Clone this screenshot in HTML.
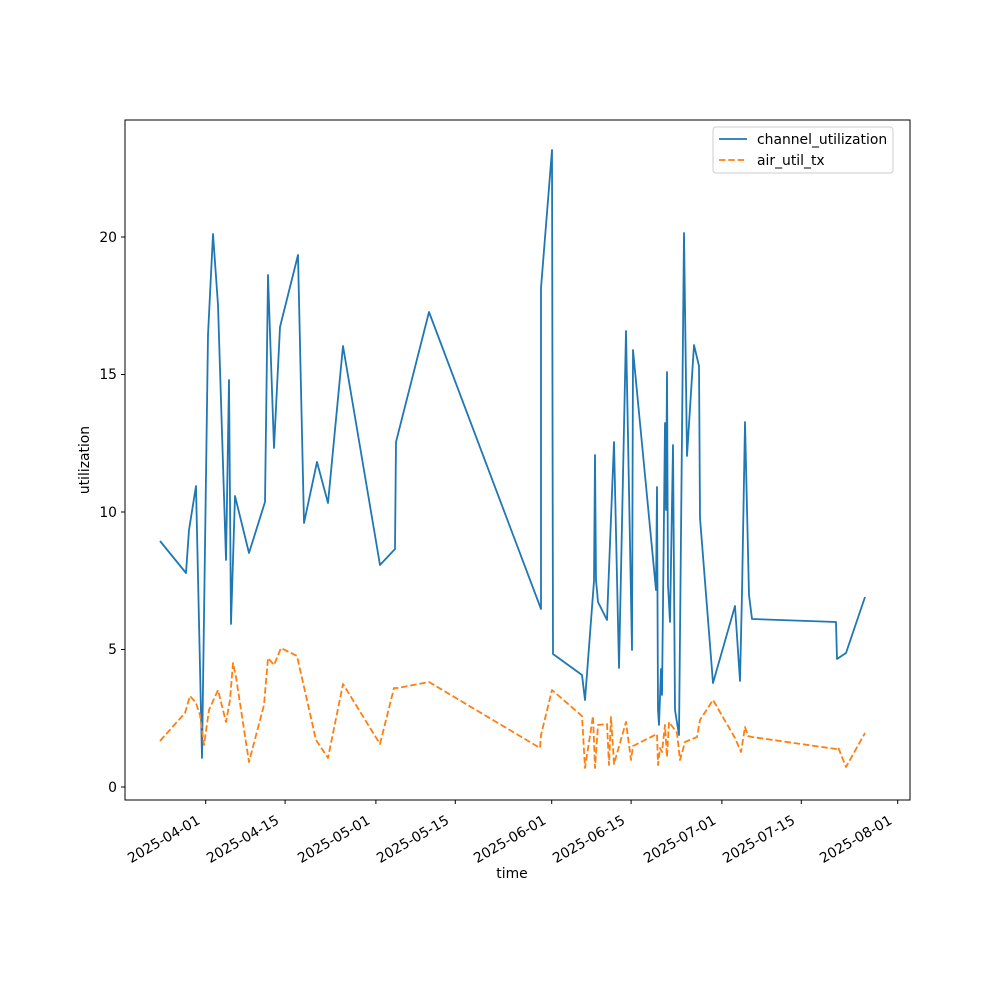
<!DOCTYPE html>
<html><head><meta charset="utf-8"><style>html,body{margin:0;padding:0;background:#fff}</style></head>
<body>
<svg width="1000" height="1000" viewBox="0 0 1000 1000" xmlns="http://www.w3.org/2000/svg" font-family="DejaVu Sans, Liberation Sans, sans-serif">
<rect width="1000" height="1000" fill="#fff"/>
<polyline fill="none" stroke="#1f77b4" stroke-width="1.8" stroke-linejoin="round" points="160,541 186,573 189,530 196,486 202,758 208,335 213,234 218,305 226,560 229,380 231,624 235,496 249,553 265,502 268,275 274,448 280,327 298,255 304,523 317,462 328,503 343,346 380,565 395,549 396,442 429,312 541,609 541,288 552,150 553,654 582,675 585,700 594,581 595,455 596,580 598,602 607,620 614,442 619,668 626,331 632,650 633,350 656,590 657,487 658,710 659,725 661,669 662,695 665,423 666,510 667,372 668,585 670,622 673,445 675,710 679,735 684,233 687,456 694,345 699,366 700,518 713,683 735,606 740,681 742,593 745,422 749,595 752,619 836,622 837,659 846,653 865,597"/>
<polyline fill="none" stroke="#ff7f0e" stroke-width="1.8" stroke-dasharray="6.5,2.8" stroke-linejoin="round" points="160,741 185,713 190,696 196,703 200,715 204,745 209,710 218,690 226,722 230,700 233,663 236,677 249,762 264,705 268,658 274,665 281,648 297,656 316,740 328,758 343,684 380,744 394,688 398,688 429,682 540,748 541,735 552,690 582,716 585,768 593,716 595,768 598,725 607,724 609,765 611,717 614,764 626,722 631,760 633,746 657,734 658,765 660,748 662,752 665,725 667,757 669,722 677,733 680,760 685,742 697,737 700,720 713,700 735,738 741,752 745,727 748,736 752,737 836,749 838,747 846,767 865,733"/>
<rect x="125" y="120" width="785" height="680" fill="none" stroke="#000" stroke-width="1"/>
<g stroke="#000" stroke-width="1">
<line x1="125" y1="787" x2="121" y2="787"/><line x1="125" y1="649.5" x2="121" y2="649.5"/><line x1="125" y1="512" x2="121" y2="512"/><line x1="125" y1="374.5" x2="121" y2="374.5"/><line x1="125" y1="237" x2="121" y2="237"/>
<line x1="205.7" y1="800" x2="205.7" y2="804"/><line x1="285.1" y1="800" x2="285.1" y2="804"/><line x1="375.9" y1="800" x2="375.9" y2="804"/><line x1="455.3" y1="800" x2="455.3" y2="804"/><line x1="551.7" y1="800" x2="551.7" y2="804"/><line x1="631.1" y1="800" x2="631.1" y2="804"/><line x1="721.9" y1="800" x2="721.9" y2="804"/><line x1="801.3" y1="800" x2="801.3" y2="804"/><line x1="897.7" y1="800" x2="897.7" y2="804"/>
</g>
<g font-size="13.9" text-anchor="end" fill="#000">
<text x="117" y="792">0</text><text x="117" y="654">5</text><text x="117" y="517">10</text><text x="117" y="379">15</text><text x="117" y="242">20</text>
</g>
<g font-size="13.9" text-anchor="end" fill="#000">
<text transform="translate(201,823) rotate(-30)">2025-04-01</text>
<text transform="translate(280,823) rotate(-30)">2025-04-15</text>
<text transform="translate(371,823) rotate(-30)">2025-05-01</text>
<text transform="translate(450,823) rotate(-30)">2025-05-15</text>
<text transform="translate(547,823) rotate(-30)">2025-06-01</text>
<text transform="translate(626,823) rotate(-30)">2025-06-15</text>
<text transform="translate(717,823) rotate(-30)">2025-07-01</text>
<text transform="translate(796,823) rotate(-30)">2025-07-15</text>
<text transform="translate(893,823) rotate(-30)">2025-08-01</text>
</g>
<text x="512" y="878" font-size="13.9" text-anchor="middle">time</text>
<text transform="translate(89,460) rotate(-90)" font-size="13.9" text-anchor="middle">utilization</text>
<rect x="713" y="127" width="180" height="46" rx="3" fill="#fff" stroke="#ccc"/>
<line x1="719" y1="139" x2="747" y2="139" stroke="#1f77b4" stroke-width="1.8"/>
<line x1="719" y1="160" x2="747" y2="160" stroke="#ff7f0e" stroke-width="1.8" stroke-dasharray="6.5,2.8"/>
<text x="757" y="144" font-size="13.9">channel_utilization</text>
<text x="757" y="165" font-size="13.9">air_util_tx</text>
</svg>
</body></html>
